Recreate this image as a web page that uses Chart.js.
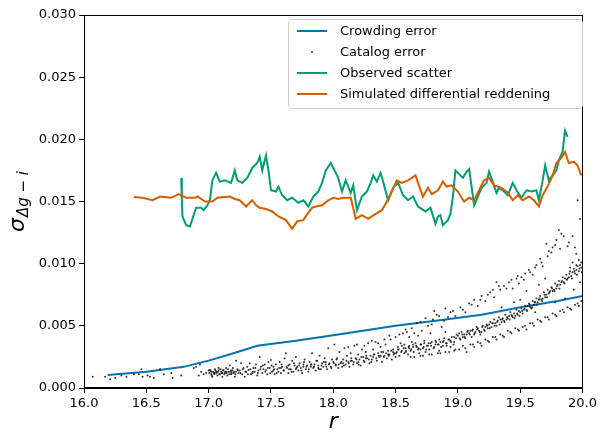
<!DOCTYPE html>
<html>
<head>
<meta charset="utf-8">
<script src="https://cdn.jsdelivr.net/npm/chart.js@4.4.1/dist/chart.umd.min.js"></script>
<style>body{margin:0;background:#fff}</style>
</head>
<body>
<canvas id="chart" width="600" height="432"></canvas>
<script>
// axis ticks
const xTicks = [16.0, 16.5, 17.0, 17.5, 18.0, 18.5, 19.0, 19.5, 20.0];
const yTicks = [0.000, 0.005, 0.010, 0.015, 0.020, 0.025, 0.030];

// crowding error (blue)
const crowdR = [16.19, 16.5, 16.8, 17.0, 17.2, 17.39, 17.7, 18.04, 18.5, 18.9, 19.19, 19.5, 19.8, 20.0];
const crowdSigma = [0.00104, 0.0013, 0.0017, 0.0022, 0.0028, 0.0034, 0.0038, 0.0043, 0.0050, 0.0055, 0.0059, 0.0065, 0.0070, 0.0074];

// observed scatter (green)
const obsR = [16.78, 16.785, 16.79, 16.82, 16.85, 16.87, 16.90, 16.94, 16.96, 16.99, 17.01, 17.03, 17.06, 17.09, 17.13, 17.18, 17.21, 17.23, 17.27, 17.31,
  17.35, 17.39, 17.41, 17.43, 17.46, 17.48, 17.50, 17.54, 17.56, 17.59, 17.63, 17.67, 17.72, 17.76, 17.80, 17.84, 17.88, 17.91, 17.94, 17.98,
  18.00, 18.04, 18.07, 18.10, 18.14, 18.16, 18.19, 18.23, 18.27, 18.30, 18.32, 18.35, 18.38, 18.40, 18.44, 18.48, 18.52, 18.56, 18.60, 18.64,
  18.68, 18.74, 18.78, 18.82, 18.84, 18.86, 18.88, 18.92, 18.94, 18.96, 18.98, 19.02, 19.04, 19.07, 19.09, 19.11, 19.13, 19.16, 19.19, 19.23,
  19.25, 19.28, 19.31, 19.33, 19.36, 19.40, 19.44, 19.47, 19.51, 19.55, 19.59, 19.63, 19.65, 19.68, 19.70, 19.73, 19.76, 19.79, 19.81, 19.84,
  19.85, 19.86, 19.88];
const obsSigma = [0.0169, 0.0151, 0.0138, 0.0131, 0.0130, 0.0136, 0.0145, 0.0145, 0.0143, 0.0147, 0.0151, 0.0167, 0.0173, 0.0166, 0.0167, 0.0165, 0.0175, 0.0167, 0.0165, 0.0169,
  0.0177, 0.0181, 0.0186, 0.0175, 0.0187, 0.0175, 0.0159, 0.0158, 0.0162, 0.0155, 0.0151, 0.0153, 0.0149, 0.0151, 0.0146, 0.0154, 0.0158, 0.0165, 0.0175, 0.0181,
  0.0177, 0.0169, 0.0158, 0.0167, 0.0157, 0.0163, 0.0143, 0.0154, 0.0158, 0.0165, 0.0171, 0.0166, 0.0173, 0.0166, 0.0151, 0.0161, 0.0165, 0.0155, 0.0151, 0.0154,
  0.0146, 0.0142, 0.0145, 0.0132, 0.0138, 0.0139, 0.0131, 0.0135, 0.0140, 0.0154, 0.0175, 0.0171, 0.0169, 0.0174, 0.0176, 0.0162, 0.0147, 0.0154, 0.0161, 0.0165,
  0.0174, 0.0166, 0.0157, 0.0161, 0.0159, 0.0155, 0.0165, 0.0159, 0.0153, 0.0159, 0.0158, 0.0159, 0.0151, 0.0167, 0.0179, 0.0167, 0.0171, 0.0175, 0.0183, 0.0190,
  0.0199, 0.0207, 0.0202];

// simulated differential reddening (orange)
const simR = [16.40, 16.47, 16.55, 16.61, 16.70, 16.76, 16.82, 16.89, 16.91, 16.97, 17.03, 17.07, 17.17, 17.21, 17.25, 17.30, 17.35, 17.38, 17.41, 17.46,
  17.51, 17.56, 17.62, 17.67, 17.71, 17.76, 17.80, 17.83, 17.86, 17.91, 17.96, 18.00, 18.04, 18.08, 18.14, 18.16, 18.18, 18.23, 18.28, 18.34,
  18.39, 18.43, 18.47, 18.51, 18.55, 18.60, 18.66, 18.68, 18.72, 18.76, 18.79, 18.84, 18.88, 18.91, 18.95, 19.00, 19.03, 19.05, 19.09, 19.13,
  19.17, 19.21, 19.25, 19.29, 19.35, 19.40, 19.44, 19.48, 19.52, 19.57, 19.61, 19.65, 19.68, 19.72, 19.76, 19.79, 19.83, 19.86, 19.89, 19.93,
  19.96, 19.99];
const simSigma = [0.01537, 0.0153, 0.0151, 0.0154, 0.0153, 0.0156, 0.0153, 0.0153, 0.0154, 0.0150, 0.0150, 0.0153, 0.0154, 0.0152, 0.0151, 0.0146, 0.0151, 0.0147, 0.0145, 0.0144,
  0.0142, 0.0138, 0.0135, 0.0128, 0.0134, 0.0135, 0.0141, 0.0145, 0.0146, 0.0147, 0.0151, 0.0153, 0.0152, 0.0153, 0.0153, 0.0145, 0.0136, 0.0139, 0.0136, 0.0140,
  0.0143, 0.0150, 0.0158, 0.0167, 0.0165, 0.0167, 0.0171, 0.0165, 0.0154, 0.0161, 0.0156, 0.0159, 0.0166, 0.0162, 0.0163, 0.0158, 0.0153, 0.0150, 0.0153, 0.0151,
  0.0159, 0.0167, 0.0169, 0.0163, 0.0161, 0.0157, 0.0151, 0.0155, 0.0151, 0.0154, 0.0151, 0.0146, 0.0155, 0.0162, 0.0171, 0.0181, 0.0185, 0.0190, 0.0181, 0.0182,
  0.0179, 0.0171];

// catalog error, individual stars [r, sigma]
const catalogPoints = [
  [16.07,0.0009],[16.17,0.0009],[16.21,0.0007],[16.25,0.0008],[16.30,0.0010],[16.34,0.0009],[16.40,0.0011],[16.44,0.0011],[16.46,0.0015],[16.47,0.0009],
  [16.51,0.0010],[16.53,0.0009],[16.56,0.0008],[16.61,0.0015],[16.64,0.0011],[16.70,0.0012],[16.71,0.0008],[16.78,0.0010],[16.88,0.0016],[16.90,0.0017],
  [16.92,0.0010],[16.93,0.0019],[16.94,0.0013],[16.96,0.0011],[16.98,0.0012],
  [17.00,0.0014],[17.01,0.00145],[17.02,0.0011],[17.03,0.0009],[17.04,0.0012],[17.05,0.0015],[17.06,0.0013],[17.07,0.0010],[17.08,0.0016],[17.09,0.0011],
  [17.10,0.0013],[17.11,0.0009],[17.12,0.00145],[17.13,0.0012],[17.14,0.0016],[17.15,0.0010],[17.16,0.0013],[17.17,0.0018],[17.18,0.0011],[17.19,0.0014],
  [17.20,0.0012],[17.21,0.0009],[17.22,0.0022],[17.23,0.0015],[17.24,0.0012],[17.25,0.0014],[17.26,0.0020],[17.27,0.0011],[17.28,0.0016],[17.29,0.0009],
  [17.30,0.0013],[17.31,0.0017],[17.32,0.00145],[17.33,0.0020],[17.34,0.0011],[17.35,0.0012],[17.36,0.0016],[17.37,0.0013],[17.38,0.0019],[17.39,0.0010],
  [17.40,0.0014],[17.41,0.0025],[17.42,0.0017],[17.43,0.0012],[17.44,0.0015],[17.45,0.0019],[17.46,0.00145],[17.47,0.0011],[17.48,0.0021],[17.49,0.0016],
  [17.02,0.0013],[17.05,0.0012],[17.08,0.0014],[17.11,0.0012],[17.14,0.0013],[17.18,0.0014],[17.22,0.0013],
  [17.005,0.0012],[17.015,0.0014],[17.025,0.0010],[17.035,0.0013],[17.045,0.0011],[17.055,0.0014],[17.065,0.0012],[17.075,0.0013],[17.085,0.0011],[17.095,0.0015],
  [17.105,0.0012],[17.115,0.0014],[17.125,0.0011],[17.135,0.0013],[17.145,0.0012],[17.155,0.0015],[17.165,0.0011],[17.175,0.0013],[17.185,0.0012],[17.195,0.0016],
  [17.205,0.0013],[17.215,0.0011],[17.235,0.0014],[17.255,0.0012],[17.275,0.0015],[17.295,0.0013],[17.315,0.0011],[17.335,0.0015],[17.355,0.0013],[17.375,0.0016],
  [17.395,0.0012],[17.415,0.0015],[17.435,0.0018],[17.455,0.0013],[17.475,0.0016],[17.495,0.0012],
  [17.50,0.00225],[17.51,0.0013],[17.52,0.0017],[17.53,0.0011],[17.54,0.0019],[17.55,0.0015],[17.56,0.0013],[17.57,0.0021],[17.58,0.0012],[17.59,0.0017],
  [17.60,0.0014],[17.61,0.0024],[17.62,0.0028],[17.63,0.0016],[17.64,0.0012],[17.65,0.0019],[17.66,0.0015],[17.67,0.0022],[17.68,0.0013],[17.69,0.0018],
  [17.70,0.0025],[17.71,0.0017],[17.72,0.0014],[17.73,0.0020],[17.74,0.0016],[17.75,0.0012],[17.76,0.0019],[17.77,0.0023],[17.78,0.0015],[17.79,0.0018],
  [17.80,0.0013],[17.81,0.0021],[17.82,0.0017],[17.83,0.0028],[17.84,0.0016],[17.85,0.0019],[17.86,0.0014],[17.87,0.0022],[17.88,0.0018],[17.89,0.0026],
  [17.90,0.0015],[17.91,0.0020],[17.92,0.0017],[17.93,0.0024],[17.94,0.0019],[17.95,0.0015],[17.96,0.0032],[17.97,0.0020],[17.98,0.0017],[17.99,0.0023],
  [17.52,0.0014],[17.58,0.0016],[17.64,0.0018],[17.70,0.0015],[17.76,0.0017],[17.82,0.0019],[17.88,0.0016],[17.94,0.0021],
  [17.505,0.0018],[17.525,0.0015],[17.545,0.0012],[17.565,0.0016],[17.585,0.0019],[17.605,0.0014],[17.625,0.0017],[17.645,0.0015],[17.665,0.0013],[17.685,0.0020],
  [17.705,0.0016],[17.725,0.0018],[17.745,0.0014],[17.765,0.0021],[17.785,0.0017],[17.805,0.0015],[17.825,0.0019],[17.845,0.0017],[17.865,0.0022],[17.885,0.0015],
  [17.905,0.0018],[17.925,0.0021],[17.945,0.0017],[17.965,0.0019],[17.985,0.0016],
  [18.00,0.0021],[18.01,0.0035],[18.02,0.0018],[18.03,0.0024],[18.04,0.0016],[18.05,0.0029],[18.06,0.0020],[18.07,0.0017],[18.08,0.0023],[18.09,0.0032],
  [18.10,0.0019],[18.11,0.0026],[18.12,0.0021],[18.13,0.0017],[18.14,0.0028],[18.15,0.0022],[18.16,0.0019],[18.17,0.0034],[18.18,0.0024],[18.19,0.0020],
  [18.20,0.0027],[18.21,0.0023],[18.22,0.0018],[18.23,0.0031],[18.24,0.0025],[18.25,0.0021],[18.26,0.0029],[18.27,0.0024],[18.28,0.0036],[18.29,0.0020],
  [18.30,0.0026],[18.31,0.0023],[18.32,0.0031],[18.33,0.0027],[18.34,0.0037],[18.35,0.0022],[18.36,0.0028],[18.37,0.0025],[18.38,0.0033],[18.39,0.0021],
  [18.40,0.0029],[18.41,0.0026],[18.42,0.0035],[18.43,0.0024],[18.44,0.0030],[18.45,0.0027],[18.46,0.0039],[18.47,0.0023],[18.48,0.0031],[18.49,0.0028],
  [18.50,0.0041],[18.50,0.0025],
  [18.02,0.0019],[18.08,0.0020],[18.14,0.0022],[18.20,0.0021],[18.26,0.0024],[18.32,0.0025],[18.38,0.0026],[18.44,0.0027],[18.48,0.0029],
  [18.005,0.0020],[18.025,0.0023],[18.045,0.0019],[18.065,0.0021],[18.085,0.0018],[18.105,0.0022],[18.125,0.0020],[18.145,0.0024],[18.165,0.0021],[18.185,0.0023],
  [18.205,0.0019],[18.225,0.0025],[18.245,0.0022],[18.265,0.0026],[18.285,0.0023],[18.305,0.0021],[18.325,0.0027],[18.345,0.0024],[18.365,0.0026],[18.385,0.0029],
  [18.405,0.0025],[18.425,0.0028],[18.445,0.0026],[18.465,0.0030],[18.485,0.0027],
  [18.12,0.0033],[18.19,0.0035],[18.25,0.0034],[18.31,0.0038],[18.36,0.0036],[18.41,0.0039],[18.45,0.0042],[18.53,0.0043],[18.58,0.0047],[18.61,0.0041],[18.65,0.0044],
  [18.51,0.0029],[18.52,0.0033],[18.53,0.0026],[18.54,0.0036],[18.55,0.0030],[18.56,0.0044],[18.57,0.0028],[18.58,0.0032],[18.59,0.0045],[18.60,0.0027],
  [18.61,0.0034],[18.62,0.0030],[18.63,0.0048],[18.64,0.0033],[18.65,0.0025],[18.66,0.0036],[18.67,0.0052],[18.68,0.0031],[18.69,0.0028],[18.70,0.0035],
  [18.71,0.0046],[18.72,0.0032],[18.73,0.0038],[18.74,0.0029],[18.75,0.0034],[18.76,0.0050],[18.77,0.0031],[18.78,0.0036],[18.79,0.0027],[18.80,0.0055],
  [18.81,0.0033],[18.82,0.0038],[18.83,0.0059],[18.84,0.0035],[18.85,0.0030],[18.86,0.0037],[18.87,0.0049],[18.88,0.0034],[18.89,0.0040],[18.90,0.0029],
  [18.91,0.0036],[18.92,0.0057],[18.93,0.0039],[18.94,0.0033],[18.95,0.0041],[18.96,0.0062],[18.97,0.0037],[18.98,0.0031],[18.99,0.0043],
  [18.57,0.0035],[18.63,0.0037],[18.72,0.0026],[18.84,0.0028],[18.90,0.0045],[18.68,0.0042],[18.78,0.0044],
  [18.52,0.0031],[18.55,0.0034],[18.58,0.0029],[18.61,0.0032],[18.64,0.0035],[18.67,0.0033],[18.70,0.0031],[18.73,0.0036],[18.76,0.0034],[18.79,0.0037],
  [18.82,0.0035],[18.85,0.0039],[18.88,0.0037],[18.91,0.0034],[18.94,0.0038],[18.97,0.0041],
  [18.505,0.0028],[18.525,0.0031],[18.545,0.0029],[18.565,0.0032],[18.585,0.0030],[18.605,0.0033],[18.625,0.0031],[18.645,0.0029],[18.665,0.0034],[18.685,0.0032],
  [18.705,0.0035],[18.725,0.0033],[18.745,0.0031],[18.765,0.0036],[18.785,0.0034],[18.805,0.0032],[18.825,0.0037],[18.845,0.0035],[18.865,0.0033],[18.885,0.0038],
  [18.905,0.0036],[18.925,0.0039],[18.945,0.0037],[18.965,0.0035],[18.985,0.0040],
  [18.62,0.0025],[18.70,0.0026],[18.77,0.0027],[18.86,0.0028],[18.93,0.0029],[18.97,0.0030],
  [18.70,0.0053],[18.74,0.0056],[18.79,0.0051],[18.85,0.0058],[18.89,0.0054],[18.94,0.0061],[18.98,0.0058],[18.81,0.0062],[18.90,0.0064],
  [19.00,0.0042],[19.02,0.0039],[19.03,0.0045],[19.05,0.0043],[19.06,0.0040],[19.08,0.0046],[19.09,0.0044],[19.11,0.0041],[19.12,0.0047],[19.14,0.0045],
  [19.15,0.0049],[19.17,0.0046],[19.18,0.0043],[19.20,0.0050],[19.21,0.0047],[19.23,0.0051],[19.24,0.0048],[19.26,0.0053],[19.27,0.0049],[19.29,0.0055],
  [19.30,0.0052],[19.32,0.0054],[19.33,0.0057],[19.35,0.0053],[19.36,0.0056],[19.38,0.0059],[19.39,0.0055],[19.41,0.0058],[19.42,0.0061],[19.44,0.0057],
  [19.45,0.0060],[19.47,0.0063],[19.48,0.0059],[19.49,0.0062],
  [19.01,0.0044],[19.04,0.0041],[19.07,0.0043],[19.10,0.0046],[19.13,0.0043],[19.16,0.0048],[19.19,0.0045],[19.22,0.0049],[19.25,0.0051],[19.28,0.0052],
  [19.31,0.0050],[19.34,0.0055],[19.37,0.0054],[19.40,0.0056],[19.43,0.0059],[19.46,0.0058],
  [19.015,0.0040],[19.035,0.0043],[19.055,0.0041],[19.075,0.0045],[19.095,0.0043],[19.115,0.0046],[19.135,0.0044],[19.155,0.0047],[19.175,0.0045],[19.195,0.0049],
  [19.215,0.0046],[19.235,0.0050],[19.255,0.0048],[19.275,0.0052],[19.295,0.0050],[19.315,0.0053],[19.335,0.0051],[19.355,0.0055],[19.375,0.0053],[19.395,0.0057],
  [19.415,0.0055],[19.435,0.0058],[19.455,0.0056],[19.475,0.0060],[19.495,0.0058],
  [19.01,0.0031],[19.04,0.0034],[19.07,0.0029],[19.10,0.0035],[19.13,0.0033],[19.16,0.0037],[19.19,0.0034],[19.22,0.0039],[19.25,0.0037],[19.28,0.0041],
  [19.31,0.0039],[19.34,0.0043],[19.37,0.0041],[19.40,0.0046],[19.43,0.0044],[19.46,0.0048],[19.49,0.0046],
  [19.06,0.0032],[19.12,0.0035],[19.18,0.0036],[19.24,0.0038],[19.30,0.0041],[19.36,0.0042],[19.42,0.0045],[19.48,0.0047],
  [19.02,0.0065],[19.06,0.0061],[19.09,0.0068],[19.13,0.0071],[19.16,0.0066],[19.19,0.0074],[19.22,0.0070],[19.26,0.0077],[19.29,0.0073],[19.31,0.0085],
  [19.34,0.0079],[19.37,0.0082],[19.41,0.0085],[19.44,0.0080],[19.47,0.0088],[19.49,0.0084],[19.35,0.0065],[19.45,0.0069],
  [19.04,0.0063],[19.11,0.0067],[19.18,0.0071],[19.24,0.0075],[19.28,0.0079],[19.33,0.0082],[19.39,0.0080],[19.43,0.0087],[19.48,0.0090],
  [19.51,0.0064],[19.52,0.0060],[19.54,0.0066],[19.55,0.0063],[19.57,0.0068],[19.58,0.0065],[19.60,0.0070],[19.61,0.0067],[19.63,0.0072],[19.64,0.0069],
  [19.66,0.0074],[19.67,0.0071],[19.69,0.0077],[19.70,0.0073],[19.72,0.0079],[19.73,0.0076],[19.75,0.0081],[19.76,0.0078],[19.78,0.0084],[19.79,0.0080],
  [19.81,0.0086],[19.82,0.0083],[19.84,0.0089],[19.85,0.0085],[19.87,0.0091],[19.88,0.0088],[19.90,0.0094],[19.91,0.0090],[19.93,0.0096],[19.94,0.0092],
  [19.96,0.0098],[19.97,0.0094],[19.99,0.0097],
  [19.50,0.0061],[19.53,0.0063],[19.56,0.0066],[19.59,0.0064],[19.62,0.0069],[19.65,0.0071],[19.68,0.0072],[19.71,0.0075],[19.74,0.0078],[19.77,0.0079],
  [19.80,0.0083],[19.83,0.0085],[19.86,0.0088],[19.89,0.0089],[19.92,0.0093],[19.95,0.0095],[19.98,0.0099],
  [19.515,0.0062],[19.535,0.0064],[19.555,0.0062],[19.575,0.0067],[19.595,0.0065],[19.615,0.0069],[19.635,0.0067],[19.655,0.0072],[19.675,0.0070],[19.695,0.0075],
  [19.715,0.0073],[19.735,0.0077],[19.755,0.0080],[19.775,0.0078],[19.795,0.0082],[19.815,0.0080],[19.835,0.0086],[19.855,0.0084],[19.875,0.0087],[19.895,0.0092],
  [19.915,0.0088],[19.935,0.0094],[19.955,0.0091],[19.975,0.0096],[19.995,0.0093],
  [19.52,0.0049],[19.55,0.0047],[19.58,0.0052],[19.61,0.0050],[19.64,0.0055],[19.67,0.0053],[19.70,0.0057],[19.73,0.0055],[19.76,0.0060],[19.79,0.0058],
  [19.82,0.0062],[19.85,0.0061],[19.88,0.0065],[19.91,0.0063],[19.94,0.0067],[19.97,0.0066],[19.99,0.0070],
  [19.54,0.0050],[19.60,0.0052],[19.66,0.0054],[19.72,0.0057],[19.78,0.0059],[19.84,0.0063],[19.90,0.0064],[19.96,0.0068],
  [19.51,0.0089],[19.54,0.0092],[19.57,0.0095],[19.60,0.0091],[19.63,0.0099],[19.66,0.0104],[19.68,0.0098],[19.71,0.0116],[19.73,0.0110],[19.76,0.0113],
  [19.79,0.0119],[19.81,0.0127],[19.83,0.0124],[19.85,0.0122],[19.88,0.0114],[19.92,0.0122],[19.95,0.0108],[19.96,0.0151],[19.98,0.0136],
  [19.53,0.0087],[19.58,0.0093],[19.62,0.0097],[19.67,0.0101],[19.72,0.0106],[19.75,0.0109],[19.78,0.0115],[19.82,0.0112],[19.89,0.0117],[19.94,0.0113],
  [19.55,0.0078],[19.62,0.0061],[19.70,0.0088],[19.78,0.0069],[19.86,0.0072],[19.93,0.0079],[19.98,0.0085],[19.65,0.0083],[19.50,0.0071],
  [19.97,0.0103],[19.99,0.0101],[19.95,0.0099],[19.92,0.0101],[19.90,0.0097]
];

const labels = ["Crowding error", "Catalog error", "Observed scatter", "Simulated differential reddening"];
const colors = ["#0173B2", "#222222", "#029E73", "#D55E00"];

function toXY(rs, ss) {
  return rs.map((r, i) => ({ x: r, y: ss[i] }));
}

const FONT = "DejaVu Sans";

// frame, axis labels and legend drawn on the canvas
const decorations = {
  id: "decorations",
  afterDatasetsDraw(chart) {
    const ctx = chart.ctx;
    const a = chart.chartArea;
    ctx.save();
    ctx.strokeStyle = "#000";
    ctx.lineWidth = 1;
    ctx.strokeRect(Math.round(a.left) + 0.5, Math.round(a.top) + 0.5, Math.round(a.right - a.left) - 1, Math.round(a.bottom - a.top) - 1);
    ctx.restore();
  },
  afterDraw(chart) {
    const ctx = chart.ctx;
    const a = chart.chartArea;
    ctx.save();
    ctx.fillStyle = "#000";

    // x title
    ctx.font = "italic 22px " + FONT;
    ctx.textAlign = "center";
    ctx.textBaseline = "alphabetic";
    ctx.fillText("r", (a.left + a.right) / 2, 428);

    // y title: sigma with subscript
    const big = "italic 22px " + FONT;
    const small = "italic 15px " + FONT;
    ctx.font = big;
    const w1 = ctx.measureText("σ").width;
    ctx.font = small;
    const w2 = ctx.measureText("Δg − i").width;
    const total = w1 + w2 + 1;
    ctx.translate(24, (a.top + a.bottom) / 2);
    ctx.rotate(-Math.PI / 2);
    ctx.textAlign = "left";
    ctx.font = big;
    ctx.fillText("σ", -total / 2, 0);
    ctx.font = small;
    ctx.fillText("Δg − i", -total / 2 + w1 + 1, 4);
    ctx.restore();

    // legend
    ctx.save();
    const bx = 288.5, by = 19.5, bw = 294, bh = 89;
    ctx.beginPath();
    ctx.roundRect(bx, by, bw, bh, 3);
    ctx.fillStyle = "rgba(255,255,255,0.8)";
    ctx.fill();
    ctx.strokeStyle = "#cccccc";
    ctx.lineWidth = 1;
    ctx.stroke();
    ctx.font = "13px " + FONT;
    ctx.textBaseline = "middle";
    ctx.textAlign = "left";
    labels.forEach((lab, i) => {
      const y = 31 + i * 21;
      if (i === 1) {
        ctx.fillStyle = colors[i];
        ctx.beginPath();
        ctx.arc(312, y, 1, 0, Math.PI * 2);
        ctx.fill();
      } else {
        ctx.strokeStyle = colors[i];
        ctx.lineWidth = 2;
        ctx.beginPath();
        ctx.moveTo(297, y);
        ctx.lineTo(327, y);
        ctx.stroke();
      }
      ctx.fillStyle = "#000";
      ctx.fillText(lab, 340, y + 1);
    });
    ctx.restore();
  }
};

const axisCommon = {
  type: "linear",
  grid: { display: true, drawOnChartArea: false, drawTicks: true, tickLength: 5, color: "#000", lineWidth: 1 },
  border: { display: true, color: "#000", width: 1 },
};

new Chart(document.getElementById("chart"), {
  type: "scatter",
  data: {
    datasets: [
      {
        label: labels[0], data: toXY(crowdR, crowdSigma), showLine: true,
        borderColor: colors[0], borderWidth: 2, pointRadius: 0, tension: 0, order: 4
      },
      {
        label: labels[1], data: catalogPoints.map(p => ({ x: p[0], y: p[1] })), showLine: false,
        backgroundColor: "rgba(0,0,0,0.8)", borderWidth: 0, pointRadius: 1, order: 3
      },
      {
        label: labels[2], data: toXY(obsR, obsSigma), showLine: true,
        borderColor: colors[2], borderWidth: 2, pointRadius: 0, tension: 0, order: 2
      },
      {
        label: labels[3], data: toXY(simR, simSigma), showLine: true,
        borderColor: colors[3], borderWidth: 2, pointRadius: 0, tension: 0, order: 1
      }
    ]
  },
  options: {
    responsive: false,
    animation: false,
    devicePixelRatio: 1,
    layout: { padding: { left: 0, right: 15, top: 15, bottom: 0 } },
    plugins: { legend: { display: false }, tooltip: { enabled: false } },
    scales: {
      x: {
        ...axisCommon,
        min: 16, max: 20,
        afterFit(scale) { scale.height = 44; },
        afterBuildTicks(scale) { scale.ticks = xTicks.map(v => ({ value: v })); },
        ticks: { color: "#000", font: { family: FONT, size: 13 }, padding: 3, autoSkip: false, maxRotation: 0,
          callback: v => v.toFixed(1) }
      },
      y: {
        ...axisCommon,
        min: 0, max: 0.03,
        afterFit(scale) { scale.width = 84; },
        afterBuildTicks(scale) { scale.ticks = yTicks.map(v => ({ value: v })); },
        ticks: { color: "#000", font: { family: FONT, size: 13 }, padding: 3, autoSkip: false,
          callback: v => v.toFixed(3) }
      }
    }
  },
  plugins: [decorations]
});
</script>
</body>
</html>
